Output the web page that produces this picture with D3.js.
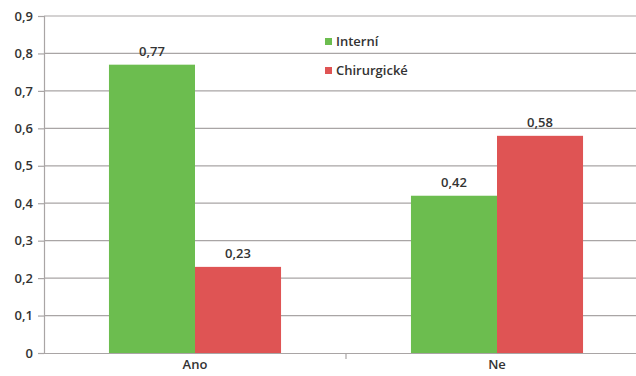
<!DOCTYPE html>
<html>
<head>
<meta charset="utf-8">
<script src="https://cdn.jsdelivr.net/npm/d3@7"></script>
<style>
  html, body { margin: 0; padding: 0; background: #fff; }
  svg { display: block; }
  text { font-family: "Open Sans", "Liberation Sans", sans-serif; font-weight: 600; fill: #333; }
</style>
</head>
<body>
<svg id="chart" width="636" height="376"></svg>
<script>
const categories = ["Ano", "Ne"];
const seriesNames = ["Interní", "Chirurgické"];
const seriesColors = ["#6cbd4f", "#df5454"];
const interni = [0.77, 0.42];
const chirurgicke = [0.23, 0.58];
const yTicks = [0, 0.1, 0.2, 0.3, 0.4, 0.5, 0.6, 0.7, 0.8, 0.9];

const svg = d3.select("#chart");
const W = 636, H = 376;

const x = d3.scaleBand().domain(categories).range([44, 648]).paddingInner(0).paddingOuter(0);
const y = d3.scaleLinear().domain([0, 0.9]).range([353, 16]);
const fmt = v => String(v).replace(".", ",");

svg.append("defs").append("clipPath").attr("id", "clip")
  .append("rect").attr("x", 0).attr("y", 0).attr("width", W).attr("height", H);

const g = svg.append("g").attr("clip-path", "url(#clip)");

// horizontal gridlines
g.append("g").selectAll("line").data(yTicks.slice(1)).join("line")
  .attr("x1", 44).attr("x2", 648)
  .attr("y1", d => y(d)).attr("y2", d => y(d))
  .attr("stroke", "#a9a5a5").attr("stroke-width", 1.2);

// y axis
const yAxis = d3.axisLeft(y).tickValues(yTicks).tickSize(6).tickPadding(5)
  .tickFormat(d => d === 0 ? "0" : fmt(d3.format(".1f")(d)));
const ya = g.append("g").attr("transform", "translate(44,0)").call(yAxis);
ya.select(".domain").attr("stroke", "#a9a5a5").attr("stroke-width", 1.2);
ya.selectAll(".tick line").attr("stroke", "#a9a5a5").attr("stroke-width", 1.2);
ya.selectAll(".tick text").style("font-size", "13px").attr("fill", "#333");

// bars
const inner = d3.scaleBand().domain(seriesNames).range([0, x.bandwidth()]).paddingInner(0).paddingOuter(0.755);
const rows = categories.map((c, i) => ({ c, vals: [interni[i], chirurgicke[i]] }));

const groups = g.append("g").selectAll("g").data(rows).join("g")
  .attr("transform", d => `translate(${x(d.c)},0)`);

groups.selectAll("rect").data(d => d.vals.map((v, j) => ({ v, j }))).join("rect")
  .attr("x", d => inner(seriesNames[d.j]))
  .attr("width", inner.bandwidth())
  .attr("y", d => y(d.v))
  .attr("height", d => y(0) - y(d.v))
  .attr("fill", d => seriesColors[d.j]);

groups.selectAll("text.val").data(d => d.vals.map((v, j) => ({ v, j }))).join("text")
  .attr("class", "val")
  .attr("x", d => inner(seriesNames[d.j]) + inner.bandwidth() / 2)
  .attr("y", d => y(d.v) - 9)
  .attr("text-anchor", "middle")
  .style("font-size", "13px")
  .text(d => fmt(d.v));

// x axis
const xAxis = d3.axisBottom(x).tickSize(0).tickPadding(7);
const xa = g.append("g").attr("transform", `translate(0,${y(0)})`).call(xAxis);
xa.select(".domain").attr("stroke", "#a9a5a5").attr("stroke-width", 1.2);
xa.selectAll(".tick text").style("font-size", "13px").attr("fill", "#333");
// category separator tick
g.append("line")
  .attr("x1", x("Ne")).attr("x2", x("Ne"))
  .attr("y1", y(0)).attr("y2", y(0) + 6)
  .attr("stroke", "#a9a5a5").attr("stroke-width", 1.2);

// legend
const legend = svg.append("g").attr("transform", "translate(325,38)");
const items = legend.selectAll("g").data(seriesNames).join("g")
  .attr("transform", (d, i) => `translate(0,${i * 29})`);
items.append("rect").attr("width", 7).attr("height", 7).attr("fill", (d, i) => seriesColors[i]);
items.append("text").attr("x", 11).attr("y", 7.5)
  .style("font-size", "13px").text(d => d);
</script>
</body>
</html>
